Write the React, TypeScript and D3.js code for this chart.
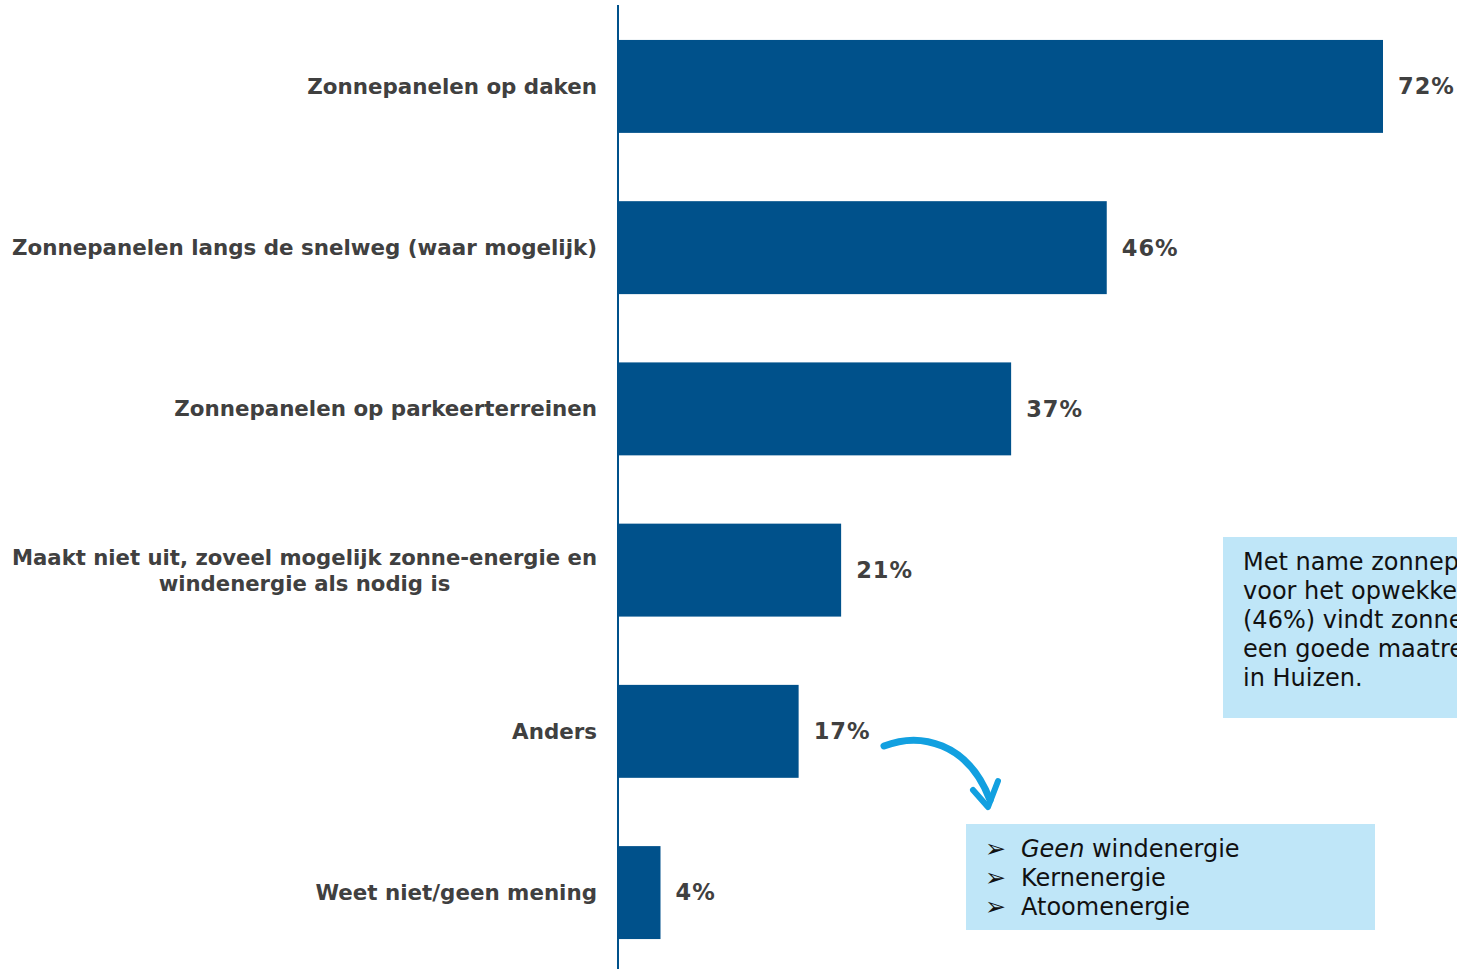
import React, { useEffect, useRef } from 'react';
import * as d3 from 'd3';

const categories = [
  ['Zonnepanelen op daken'],
  ['Zonnepanelen langs de snelweg (waar mogelijk)'],
  ['Zonnepanelen op parkeerterreinen'],
  ['Maakt niet uit, zoveel mogelijk zonne-energie en', 'windenergie als nodig is'],
  ['Anders'],
  ['Weet niet/geen mening'],
];
const values = [72, 46, 37, 21, 17, 4];

const noteLines = [
  'Met name zonnepanelen op daken wordt',
  'voor het opwekken van duurzame energie',
  '(46%) vindt zonnepanelen langs de snelweg',
  'een goede maatregel voor duurzame energie',
  'in Huizen.',
];
const otherLines = [
  ['Geen', ' windenergie'],
  ['', 'Kernenergie'],
  ['', 'Atoomenergie'],
];

const W = 1457;
const H = 969;
const FONT = '"DejaVu Sans", Verdana, sans-serif';
const BAR = '#00518b';
const TXT = '#404040';
const BOX = '#bfe6f8';
const LABEL_SIZE = 21.4;

export default function App() {
  const ref = useRef<SVGSVGElement>(null);

  useEffect(() => {
    const svg = d3.select(ref.current);
    svg.selectAll('*').remove();

    const x = d3.scaleLinear().domain([0, 72]).range([618, 1383]);
    const y = d3
      .scaleBand<number>()
      .domain(d3.range(values.length))
      .range([5.8, 973.2])
      .paddingInner(0.4235)
      .paddingOuter(0.21175);

    // bars
    svg
      .append('g')
      .selectAll('rect')
      .data(values)
      .join('rect')
      .attr('x', x(0))
      .attr('y', (_, i) => y(i)!)
      .attr('width', (d) => x(d) - x(0))
      .attr('height', y.bandwidth())
      .attr('fill', BAR);

    // axis line
    svg
      .append('line')
      .attr('x1', x(0))
      .attr('x2', x(0))
      .attr('y1', 5)
      .attr('y2', H)
      .attr('stroke', BAR)
      .attr('stroke-width', 2);

    // value labels
    svg
      .append('g')
      .selectAll('text')
      .data(values)
      .join('text')
      .attr('x', (d) => x(d) + 15)
      .attr('y', (_, i) => y(i)! + y.bandwidth() / 2)
      .attr('dy', '0.35em')
      .attr('font-family', FONT)
      .attr('font-weight', 'bold')
      .attr('font-size', 22.5)
      .attr('letter-spacing', 1)
      .attr('fill', TXT)
      .text((d) => d + '%');

    // category labels
    const lab = svg.append('g');
    categories.forEach((lines, i) => {
      const cy = y(i)! + y.bandwidth() / 2;
      if (lines.length === 1) {
        lab
          .append('text')
          .attr('x', 597)
          .attr('y', cy)
          .attr('dy', '0.35em')
          .attr('text-anchor', 'end')
          .attr('font-family', FONT)
          .attr('font-weight', 'bold')
          .attr('font-size', LABEL_SIZE)
          .attr('fill', TXT)
          .text(lines[0]);
      } else {
        const first = lab
          .append('text')
          .attr('x', 597)
          .attr('y', cy - 13)
          .attr('dy', '0.35em')
          .attr('text-anchor', 'end')
          .attr('font-family', FONT)
          .attr('font-weight', 'bold')
          .attr('font-size', LABEL_SIZE - 0.2)
          .attr('fill', TXT)
          .text(lines[0]);
        const w = (first.node() as SVGTextElement).getComputedTextLength();
        lab
          .append('text')
          .attr('x', 597 - w / 2)
          .attr('y', cy + 13)
          .attr('dy', '0.35em')
          .attr('text-anchor', 'middle')
          .attr('font-family', FONT)
          .attr('font-weight', 'bold')
          .attr('font-size', LABEL_SIZE - 0.2)
          .attr('fill', TXT)
          .text(lines[1]);
      }
    });

    // note box top right (cut off by the right edge, as in the source)
    svg.append('rect').attr('x', 1223).attr('y', 537).attr('width', 260).attr('height', 181).attr('fill', BOX);
    svg
      .append('g')
      .selectAll('text')
      .data(noteLines)
      .join('text')
      .attr('x', 1243)
      .attr('y', (_, i) => 570 + i * 29)
      .attr('font-family', FONT)
      .attr('font-size', 24)
      .attr('fill', '#111')
      .text((d) => d);

    // arrow
    svg
      .append('path')
      .attr('d', 'M884,746 C920,732 968,742 990,800')
      .attr('fill', 'none')
      .attr('stroke', '#12a0e0')
      .attr('stroke-width', 7)
      .attr('stroke-linecap', 'round');
    svg
      .append('path')
      .attr('d', 'M973,790 L988,807 L998,781')
      .attr('fill', 'none')
      .attr('stroke', '#12a0e0')
      .attr('stroke-width', 6)
      .attr('stroke-linecap', 'round')
      .attr('stroke-linejoin', 'round');

    // list box
    svg.append('rect').attr('x', 966).attr('y', 824).attr('width', 409).attr('height', 106).attr('fill', BOX);
    const items = svg
      .append('g')
      .selectAll('g')
      .data(otherLines)
      .join('g');
    items
      .append('text')
      .attr('x', 985)
      .attr('y', (_, i) => 857 + i * 29)
      .attr('font-family', FONT)
      .attr('font-size', 25)
      .attr('fill', '#111')
      .text('\u27A2');
    const t = items
      .append('text')
      .attr('x', 1021)
      .attr('y', (_, i) => 857 + i * 29)
      .attr('font-family', FONT)
      .attr('font-size', 24)
      .attr('fill', '#111');
    t.append('tspan').attr('font-style', 'italic').text((d) => d[0]);
    t.append('tspan').text((d) => d[1]);
  }, []);

  return (
    <svg
      ref={ref}
      width={W}
      height={H}
      style={{ position: 'absolute', left: 0, top: 0, background: '#fff' }}
    />
  );
}
